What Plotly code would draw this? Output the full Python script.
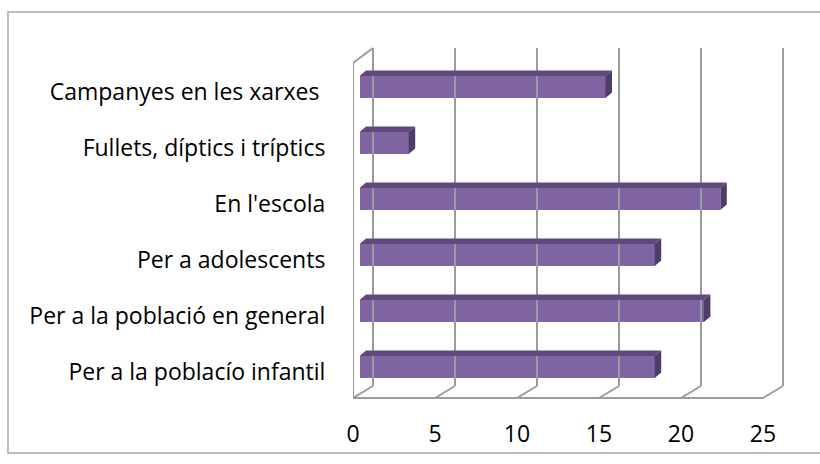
import plotly.graph_objects as go

# ---- data ----
categories = [
    "Per a la poblacío infantil",
    "Per a la població en general",
    "Per a adolescents",
    "En l'escola",
    "Fullets, díptics i tríptics",
    "Campanyes en les xarxes ",
]
values = [18, 21, 18, 22, 3, 15]
x_ticks = [0, 5, 10, 15, 20, 25]

# ---- geometry (pixel design -> data units) ----
W, H = 820, 464
PX_X = 16.4          # px per x unit
PX_Y = 56.0          # px per category step
L, R, T, B = 353, 20, 40, 64
plot_w = W - L - R
plot_h = H - T - B
y0_px = 367          # pixel of first category centre
x_range = [0, plot_w / PX_X]
y_range = [-(H - B - y0_px) / PX_Y, (y0_px - T) / PX_Y]

DXU = 20 / PX_X      # depth offset of back wall
YF = -(398 - y0_px) / PX_Y    # front floor
YB = -(386 - y0_px) / PX_Y    # back floor
YTOP = (y0_px - 48) / PX_Y    # back wall top
YFT = (y0_px - 63) / PX_Y     # left wall front top

BASE = 6.5 / PX_X    # bar front face start
BH = 22 / PX_Y       # bar height
BDX = 6.5 / PX_X     # bar depth x
BDY = 5.5 / PX_Y     # bar depth y
LABEL_SHIFT = 5 / PX_Y

pos = list(range(len(categories)))
grid_col = "#9c9c9c"

fig = go.Figure()

# walls & floor
wx, wy = [], []
for t in x_ticks:
    wx += [t + DXU, t + DXU, None]
    wy += [YTOP, YB, None]
    wx += [t, t + DXU, None]
    wy += [YF, YB, None]
wx += [x_ticks[0], x_ticks[-1], None]
wy += [YF, YF, None]
wx += [x_ticks[0], x_ticks[0], x_ticks[0] + DXU, None]
wy += [YF, YFT, YTOP, None]
fig.add_trace(go.Scatter(x=wx, y=wy, mode="lines",
                         line=dict(color=grid_col, width=2),
                         hoverinfo="skip", showlegend=False))

# bar front faces
fig.add_trace(go.Bar(y=pos, x=values, base=[BASE] * len(values), orientation="h",
                     width=BH, marker=dict(color="#8064A2", line=dict(width=0)),
                     showlegend=False))

# top and side faces
tx, ty, sx, sy = [], [], [], []
for p, v in zip(pos, values):
    e = BASE + v
    top = p + BH / 2
    bot = p - BH / 2
    tx += [BASE, BASE + BDX, e + BDX, e, BASE, None]
    ty += [top, top + BDY, top + BDY, top, top, None]
    sx += [e, e, e + BDX, e + BDX, e, None]
    sy += [bot, top, top + BDY, bot + BDY, bot, None]
fig.add_trace(go.Scatter(x=tx, y=ty, mode="lines", fill="toself",
                         fillcolor="#5E4A7E", line=dict(width=0, color="#5E4A7E"),
                         hoverinfo="skip", showlegend=False))
fig.add_trace(go.Scatter(x=sx, y=sy, mode="lines", fill="toself",
                         fillcolor="#4E3D6A", line=dict(width=0, color="#4E3D6A"),
                         hoverinfo="skip", showlegend=False))

font_family = "'Open Sans', sans-serif"

fig.update_layout(
    width=W, height=H,
    margin=dict(l=L, r=R, t=T, b=B, pad=0),
    paper_bgcolor="white", plot_bgcolor="white",
    font=dict(family=font_family, size=23, color="black"),
    xaxis=dict(range=x_range, tickvals=x_ticks, ticktext=[str(t) for t in x_ticks],
               showgrid=False, zeroline=False, showline=False,
               ticks="outside", ticklen=13, tickcolor="rgba(0,0,0,0)",
               fixedrange=True),
    yaxis=dict(range=y_range, tickvals=[p - LABEL_SHIFT for p in pos], ticktext=categories,
               showgrid=False, zeroline=False, showline=False,
               ticks="outside", ticklen=22, tickcolor="rgba(0,0,0,0)",
               fixedrange=True),
    bargap=0,
)

# chart border
fig.add_shape(type="rect", xref="paper", yref="paper",
              x0=(8 - L) / plot_w, x1=(830 - L) / plot_w,
              y0=(H - B - 453) / plot_h, y1=(H - B - 12) / plot_h,
              line=dict(color="#a6a6a6", width=1.5), layer="below")

fig.write_html("out.html", config={"staticPlot": True},
               post_script="document.body.style.margin='0';")
